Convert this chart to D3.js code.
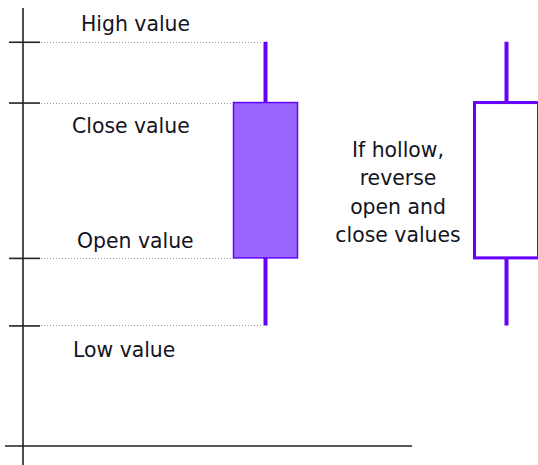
<!DOCTYPE html>
<html>
<head>
<meta charset="utf-8">
<script src="https://cdn.jsdelivr.net/npm/d3@7"></script>
<style>
  body { margin: 0; background: #fff; }
  text { font-family: "DejaVu Sans", Verdana, sans-serif; fill: #14141e; }
</style>
</head>
<body>
<svg id="svg1" width="538" height="465"></svg>
<script>
// data
var candleNames = ["filled", "hollow"];
var openValues  = [28, 51];
var closeValues = [51, 28];
var highValues  = [60, 60];
var lowValues   = [18, 18];
var tickValues  = [18, 28, 51, 60];
var hollowNote  = ["If hollow,", "reverse", "open and", "close values"];

var candles = candleNames.map(function(n, i) {
  return { name: n, open: openValues[i], close: closeValues[i], high: highValues[i], low: lowValues[i] };
});

var svg = d3.select("#svg1");
var g = svg.append("g");

var scaleY = d3.scaleLinear().domain([0, 65]).range([447, 8]);
var scaleX = d3.scalePoint().domain(candleNames).range([265.5, 506.5]);
var boxW = 64;

// axis lines
g.append("line")
  .attr("x1", 23).attr("x2", 23)
  .attr("y1", 8).attr("y2", 465)
  .attr("stroke", "#222").attr("stroke-width", 1.6);
g.append("line")
  .attr("x1", 5).attr("x2", 412)
  .attr("y1", scaleY(0) - 1).attr("y2", scaleY(0) - 1)
  .attr("stroke", "#222").attr("stroke-width", 1.6);

// ticks crossing the axis
var axisY = d3.axisLeft(scaleY).tickValues(tickValues).tickSize(31).tickFormat("");
var gAxisY = g.append("g").attr("transform", "translate(40,0)").call(axisY);
gAxisY.select(".domain").remove();
gAxisY.selectAll(".tick line").attr("stroke", "#222").attr("stroke-width", 1.6);

// dotted guide lines
var c0 = candles[0];
var guides = [
  { v: c0.high, x2: scaleX(c0.name) - 3 },
  { v: c0.close, x2: scaleX(c0.name) - boxW / 2 },
  { v: c0.open, x2: scaleX(c0.name) - boxW / 2 },
  { v: c0.low, x2: scaleX(c0.name) - 3 }
];
g.selectAll(".guide").data(guides).enter().append("line")
  .attr("x1", 41).attr("x2", function(d) { return d.x2; })
  .attr("y1", function(d) { return Math.round(scaleY(d.v)) + 0.5; })
  .attr("y2", function(d) { return Math.round(scaleY(d.v)) + 0.5; })
  .attr("stroke", "#999").attr("stroke-width", 1)
  .attr("stroke-dasharray", "1,2");

// wicks
g.selectAll(".wick").data(candles).enter().append("line")
  .attr("x1", function(d) { return scaleX(d.name); })
  .attr("x2", function(d) { return scaleX(d.name); })
  .attr("y1", function(d) { return scaleY(d.high); })
  .attr("y2", function(d) { return scaleY(d.low); })
  .attr("stroke", "#6600ff").attr("stroke-width", 4);

// bodies
g.selectAll(".body").data(candles).enter().append("rect")
  .attr("x", function(d) { return scaleX(d.name) - boxW / 2; })
  .attr("y", function(d) { return scaleY(Math.max(d.open, d.close)); })
  .attr("width", boxW)
  .attr("height", function(d) { return scaleY(Math.min(d.open, d.close)) - scaleY(Math.max(d.open, d.close)); })
  .attr("fill", function(d) { return d.open < d.close ? "#9966ff" : "#fff"; })
  .attr("stroke", "#6600ff")
  .attr("stroke-width", function(d) { return d.open < d.close ? 1.5 : 3; });

// labels
var fs = 20.4;
g.append("text").attr("x", 81).attr("y", scaleY(c0.high) - 11).attr("font-size", fs).text("High value");
g.append("text").attr("x", 72).attr("y", scaleY(c0.close) + 30).attr("font-size", fs).text("Close value");
g.append("text").attr("x", 77).attr("y", scaleY(c0.open) - 10).attr("font-size", fs).text("Open value");
g.append("text").attr("x", 73).attr("y", scaleY(c0.low) + 32).attr("font-size", fs).text("Low value");

g.append("text").attr("x", 398).attr("y", 157)
  .attr("text-anchor", "middle").attr("font-size", fs)
  .selectAll("tspan").data(hollowNote).enter().append("tspan")
  .attr("x", 398).attr("dy", function(d, i) { return i === 0 ? 0 : 28.3; })
  .text(function(d) { return d; });
</script>
</body>
</html>
